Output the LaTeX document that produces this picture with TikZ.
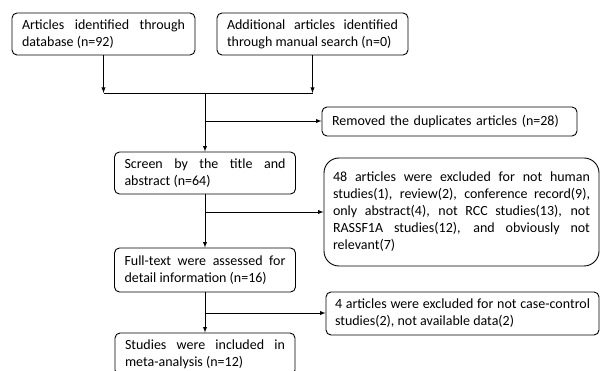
\documentclass[tikz,border=0pt]{standalone}
\usepackage{fontspec}
\setmainfont{Carlito}
\newcommand{\boxfont}{\fontsize{14}{17}\selectfont\hyphenpenalty=10000\exhyphenpenalty=10000\relax}
\begin{document}
\begin{tikzpicture}[x=1pt, y=-1pt, >=latex,
    process/.style ={draw, line width=0.9pt, rounded corners=5pt, inner xsep=10pt, inner ysep=4pt,
                     align=justify, font={\boxfont}},
    excluded/.style ={process, inner xsep=9pt},
    link/.style ={line width=0.9pt}]
   \clip (0,0) rectangle (600,371);

   \node[process, text width=163pt, minimum height=42pt] (A) at (103.5,34) {Articles identified through database (n=92)};
   \node[process, text width=171pt, minimum height=42pt] (B) at (312.5,34) {Additional articles identified through manual search (n=0)};
   \node[process, align=left, text width=235pt, minimum height=29pt] (C) at (449.5,121.5) {Removed the duplicates articles (n=28)};
   \node[process, text width=161pt, minimum height=42pt] (D) at (205,173) {Screen by the title and abstract (n=64)};
   \node[excluded, text width=257pt, minimum height=108pt, rounded corners=15pt] (E) at (461.5,212) {48 articles were excluded for not human\linebreak studies(1), review(2), conference record(9),\linebreak only abstract(4), not RCC studies(13), not\linebreak RASSF1A studies(12), and obviously not\linebreak relevant(7)};
   \node[process, text width=161pt, minimum height=44pt] (F) at (205,270) {Full-text were assessed for detail information (n=16)};
   \node[excluded, text width=255pt, minimum height=43pt] (G) at (462.5,313.5) {4 articles were excluded for not case-control\linebreak studies(2), not available data(2)};
   \node[process, text width=160pt, minimum height=42pt] (H) at (205,354) {Studies were included in meta-analysis (n=12)};

   \coordinate (J) at (205,93);
   \coordinate (K) at (205,121);
   \coordinate (L) at (205,212);
   \coordinate (M) at (205,313);

   \draw[link, ->] (A.south) to (A.south |- J);
   \draw[link, ->] (B.south) to (B.south |- J);
   \draw[link] (A.south |- J) to (B.south |- J);
   \draw[link, ->] (J) to (D.north);
   \draw[link, ->] (K) to (K -| C.west);
   \draw[link, ->] (D.south) to (F.north);
   \draw[link, ->] (L) to (L -| E.west);
   \draw[link, ->] (F.south) to (H.north);
   \draw[link, ->] (M) to (M -| G.west);
 \end{tikzpicture}
\end{document}
